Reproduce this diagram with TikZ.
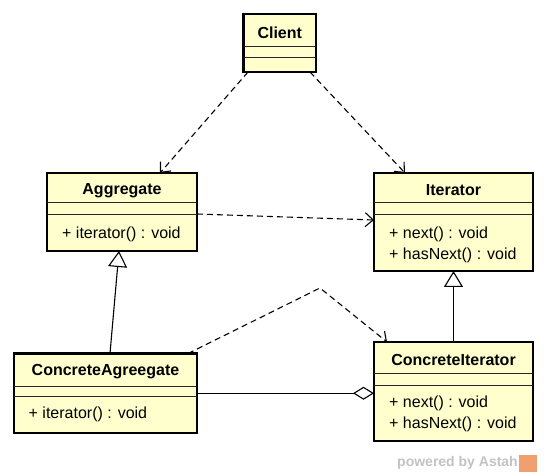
\documentclass[tikz,border=0pt]{standalone}
\usepackage{fontspec}
\setmainfont{Liberation Sans}
\usetikzlibrary{arrows.meta}
\definecolor{clsfill}{RGB}{255,255,206}
\definecolor{wmgray}{RGB}{195,195,195}
\definecolor{wmorange}{RGB}{240,160,110}
\tikzset{
  cls/.style={draw=black, line width=2.6pt, fill=clsfill, rectangle, inner sep=0pt, outer sep=0pt},
  comp/.style={draw=black!85, line width=1pt},
  title/.style={font=\fontsize{16}{19}\selectfont\bfseries, inner sep=0pt},
  member/.style={font=\fontsize{16}{19}\selectfont, inner sep=0pt, anchor=west},
  dep/.style={line width=1.1pt, dash pattern=on 6pt off 4pt, -{Straight Barb[length=8pt,width=14pt,line width=1.1pt]}},
  gen/.style={line width=1.1pt, -{Triangle[open,length=16pt,width=19pt,line width=1.1pt,fill=white]}},
  agg/.style={line width=1.1pt, -{Diamond[open,length=21pt,width=13pt,line width=1.1pt,fill=white]}},
}
\begin{document}
\begin{tikzpicture}[x=1pt,y=-1pt]
\useasboundingbox (0,0) rectangle (547,476);
\fill[white] (0,0) rectangle (547,476);

% Client
\node[cls, minimum width=72.5pt, minimum height=58pt] (client) at (279.75,43) {};
\draw[comp] (243.5,46.7) -- (316,46.7);
\draw[comp] (243.5,57.3) -- (316,57.3);
\node[title] (clientT) at (279.75,32.3) {Client};

% Aggregate
\node[cls, minimum width=150pt, minimum height=78pt] (agg) at (122,212) {};
\draw[comp] (47,203) -- (197,203);
\draw[comp] (47,215) -- (197,215);
\node[title] (aggT) at (122,190.7) {Aggregate};
\node[member] (aggM) at (62,234) {+ iterator() : void};

% Iterator
\node[cls, minimum width=159pt, minimum height=98pt] (iter) at (453.5,222) {};
\draw[comp] (374,203) -- (533,203);
\draw[comp] (374,215) -- (533,215);
\node[title] (iterT) at (453.5,190.5) {Iterator};
\node[member] (iterM1) at (389,234) {+ next() : void};
\node[member] (iterM2) at (389,255) {+ hasNext() : void};

% ConcreteAgreegate
\node[cls, minimum width=183pt, minimum height=79.5pt] (ca) at (105.5,393.25) {};
\draw[comp] (14,386.5) -- (197,386.5);
\draw[comp] (14,396.5) -- (197,396.5);
\node[title] (caT) at (105.5,371.7) {ConcreteAgreegate};
\node[member] (caM) at (28.5,414) {+ iterator() : void};

% ConcreteIterator
\node[cls, minimum width=159pt, minimum height=99pt] (ci) at (453.5,391.5) {};
\draw[comp] (374,373) -- (533,373);
\draw[comp] (374,385) -- (533,385);
\node[title] (ciT) at (453.5,360) {ConcreteIterator};
\node[member] (ciM1) at (389,403) {+ next() : void};
\node[member] (ciM2) at (389,424) {+ hasNext() : void};

% connectors
\draw[dep] ([xshift=4.5pt]client.south west) -- ([xshift=113pt]agg.north west);
\draw[dep] ([xshift=-6pt]client.south east) -- ([xshift=31pt]iter.north west);
\draw[dep] ([yshift=-41pt]agg.north east) -- ([yshift=-47pt]iter.north west);
\coordinate (peak) at (320,288);
\draw[dep] ([xshift=-9pt]ca.north east) -- (peak) -- ([xshift=13pt]ci.north west);
\draw[gen] ([xshift=96pt]ca.north west) -- ([xshift=72pt]agg.south west);
\draw[gen] (ci.north) -- (iter.south);
\draw[agg] (ca.east) -- (ca.east -| ci.west);

% watermark
\node[font=\fontsize{14}{16}\selectfont\bfseries, text=wmgray, anchor=east, inner sep=0pt] (wm) at (518,463) {powered by Astah};
\fill[wmorange] (519,455) rectangle (537,472);
\end{tikzpicture}
\end{document}
